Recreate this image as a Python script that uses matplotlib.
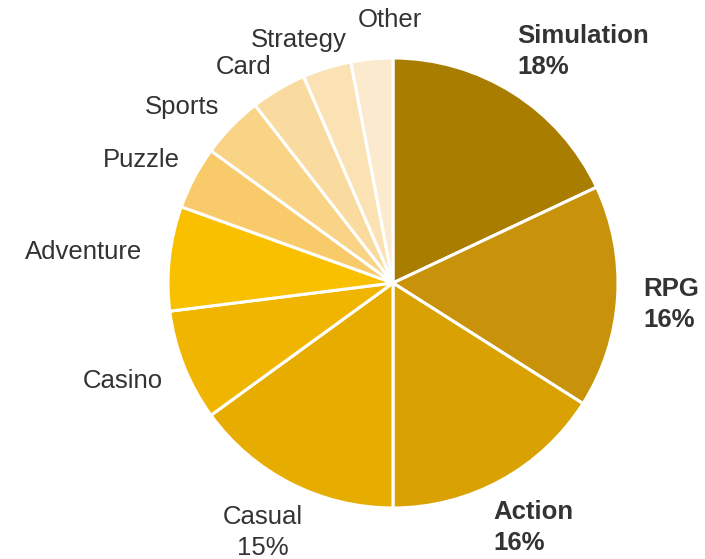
import matplotlib.pyplot as plt

plt.rcParams['font.family'] = ['Liberation Sans', 'DejaVu Sans']

genres = ['Simulation', 'RPG', 'Action', 'Casual', 'Casino', 'Adventure',
          'Puzzle', 'Sports', 'Card', 'Strategy', 'Other']
shares = [18, 16, 16, 15, 8, 7.5, 4.5, 4.5, 4, 3.5, 3]
colors = ['#A97D00', '#C8930A', '#D9A102', '#E6AD00', '#F0B500', '#F9C000',
          '#F8CA6A', '#F9D386', '#FADB9F', '#FBE2B5', '#FCEACF']

fig = plt.figure(figsize=(7.05, 5.59), dpi=100)
ax = fig.add_axes([0, 0, 1, 1])
ax.set_xlim(0, 705)
ax.set_ylim(0, 559)
ax.set_aspect('equal')
ax.axis('off')

ax.pie(shares, colors=colors, startangle=90, counterclock=False,
       center=(393, 276), radius=225, frame=True,
       wedgeprops=dict(edgecolor='white', linewidth=2.2))
ax.set_xlim(0, 705)
ax.set_ylim(0, 559)
ax.axis('off')

# label anchor (x, y from top, alignment); big four get bold name + share
label_pos = {
    'Simulation': (517, 36, 'left'),
    'RPG': (643, 289, 'left'),
    'Action': (493, 512, 'left'),
    'Casual': (263, 517, 'center'),
    'Casino': (83, 381, 'left'),
    'Adventure': (25, 252, 'left'),
    'Puzzle': (103, 160, 'left'),
    'Sports': (145, 107, 'left'),
    'Card': (216, 67, 'left'),
    'Strategy': (251, 40, 'left'),
    'Other': (358, 20, 'left'),
}
bold = {'Simulation', 'RPG', 'Action'}
for name, share in zip(genres, shares):
    x, y, ha = label_pos[name]
    weight = 'bold' if name in bold else 'normal'
    ax.text(x, 559 - y, name, ha=ha, va='center', fontsize=18.5,
            color='#333333', fontweight=weight)
    if share >= 15:
        ax.text(x, 559 - y - 31, f'{share:g}%', ha=ha, va='center',
                fontsize=18.5, color='#333333', fontweight=weight)

fig.savefig('out.png', dpi=100)
